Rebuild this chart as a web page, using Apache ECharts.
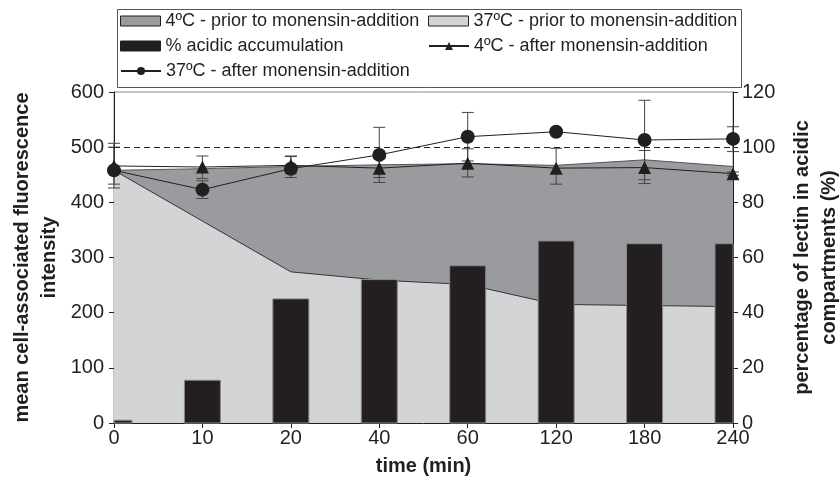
<!DOCTYPE html>
<html>
<head>
<meta charset="utf-8">
<script src="https://cdn.jsdelivr.net/npm/echarts@6/dist/echarts.min.js"></script>
<style>
  html, body { margin: 0; padding: 0; background: #fff; }
  #chart { width: 839px; height: 484px; }
</style>
</head>
<body>
<div id="chart"></div>
<script>
// time points (min), evenly spaced on the axis
const times = ['0', '10', '20', '40', '60', '120', '180', '240'];

// areas (left axis, fluorescence)
const prior4 = [458, 461, 465, 468, 470, 467, 477, 465];
const prior37 = [458, 366, 274, 259, 251, 215, 213, 211];

// bars (right axis, %)
const acidic = [1, 15.5, 45, 52, 57, 66, 65, 65];

// lines with error bars (left axis)
const after4 = [466, 464, 467, 462, 471, 462, 463, 452];
const after4Low = [426, 443, 452, 445, 446, 433, 434, 449];
const after4High = [507, 484, 484, 479, 497, 498, 494, 455];
const after37 = [458, 423, 461, 486, 519, 528, 513, 515];
const after37Low = [433, 407, 445, 436, 475, 523, 441, 492];
const after37High = [500, 439, 483, 536, 563, 533, 585, 537];

const refLevel = 500;

const FONT = 'Liberation Sans, Arial, Helvetica, sans-serif';
const INK = '#231f20';

const chartDom = document.getElementById('chart');
const myChart = echarts.init(chartDom);

function errorBars(low, high) {
    return low.map(function (v, i) { return [i, v, high[i]]; });
}

function renderError(params, api) {
    const x = api.value(0);
    const lo = api.coord([x, api.value(1)]);
    const hi = api.coord([x, api.value(2)]);
    const w = 6;
    const style = { stroke: '#444', lineWidth: 1 };
    return {
        type: 'group',
        children: [
            { type: 'line', shape: { x1: hi[0], y1: hi[1], x2: lo[0], y2: lo[1] }, style: style },
            { type: 'line', shape: { x1: hi[0] - w, y1: hi[1], x2: hi[0] + w, y2: hi[1] }, style: style },
            { type: 'line', shape: { x1: lo[0] - w, y1: lo[1], x2: lo[0] + w, y2: lo[1] }, style: style }
        ]
    };
}

// bars drawn as custom rects so the half bars at 0 and 240 get cut at the plot edge
function renderBar(params, api) {
    const base = api.coord([api.value(0), 0]);
    const top = api.coord([api.value(0), api.value(1)]);
    const w = 36;
    const cs = params.coordSys;
    const shape = echarts.graphic.clipRectByRect(
        { x: base[0] - w / 2, y: top[1], width: w, height: base[1] - top[1] },
        { x: cs.x, y: cs.y, width: cs.width, height: cs.height }
    );
    return shape && {
        type: 'rect',
        shape: shape,
        style: { fill: INK, stroke: '#8a8a8a', lineWidth: 1 }
    };
}

function legendItem(name, left, top, icon, style) {
    const item = { name: name };
    if (icon) {
        item.icon = icon;
        item.itemStyle = style;
    }
    return {
        left: left,
        top: top,
        padding: 0,
        itemWidth: 40,
        itemHeight: 10,
        itemGap: 4,
        selectedMode: false,
        textStyle: { fontFamily: FONT, fontSize: 18, color: INK, lineHeight: 20, padding: [0, 0, 0, 0] },
        data: [item]
    };
}

const N_P4 = '4ºC - prior to monensin-addition';
const N_P37 = '37ºC - prior to monensin-addition';
const N_AC = '% acidic accumulation';
const N_A4 = '4ºC - after monensin-addition';
const N_A37 = '37ºC - after monensin-addition';

let option = {
    animation: false,
    backgroundColor: '#fff',
    graphic: [
        {
            type: 'rect',
            left: 115,
            top: 7,
            shape: { width: 624, height: 78 },
            style: { fill: 'none', stroke: '#555', lineWidth: 1 },
            z: 0
        }
    ],
    legend: [
        legendItem(N_P4, 120, 11, 'rect', { color: '#9a9b9f', borderColor: INK, borderWidth: 1 }),
        legendItem(N_P37, 428, 11, 'rect', { color: '#d3d4d6', borderColor: INK, borderWidth: 1 }),
        legendItem(N_AC, 120, 36, 'rect', { color: INK, borderColor: INK, borderWidth: 1 }),
        legendItem(N_A4, 428, 36),
        legendItem(N_A37, 120, 61)
    ],
    grid: {
        left: 114,
        right: 106,
        top: 92,
        bottom: 61,
        containLabel: false,
        outerBoundsMode: 'none',
        show: true,
        borderColor: '#8a8a8a',
        borderWidth: 1
    },
    xAxis: {
        type: 'category',
        data: times,
        boundaryGap: false,
        name: 'time (min)',
        nameLocation: 'middle',
        nameGap: 33,
        nameMoveOverlap: false,
        nameTextStyle: { fontFamily: FONT, fontSize: 20, fontWeight: 'bold', color: INK },
        axisLine: { lineStyle: { color: INK, width: 1 } },
        axisTick: { alignWithLabel: true, length: 5, lineStyle: { color: INK } },
        axisLabel: { fontFamily: FONT, fontSize: 20, color: INK, margin: 5 },
        splitLine: { show: false }
    },
    yAxis: [
        {
            type: 'value',
            min: 0,
            max: 600,
            interval: 100,
            name: 'mean cell-associated fluorescence\nintensity',
            nameLocation: 'middle',
            nameGap: 51,
            nameMoveOverlap: false,
            nameTextStyle: { fontFamily: FONT, fontSize: 20, fontWeight: 'bold', color: INK, lineHeight: 27 },
            axisLine: { show: true, lineStyle: { color: INK, width: 1 } },
            axisTick: { show: true, inside: false, length: 5, lineStyle: { color: INK } },
            axisLabel: { inside: false, fontFamily: FONT, fontSize: 20, color: INK, margin: 10 },
            splitLine: { show: false }
        },
        {
            type: 'value',
            min: 0,
            max: 120,
            interval: 20,
            position: 'right',
            name: 'percentage of lectin in acidic\ncompartments (%)',
            nameLocation: 'middle',
            nameRotate: 90,
            nameGap: 56,
            nameMoveOverlap: false,
            nameTextStyle: { fontFamily: FONT, fontSize: 20, fontWeight: 'bold', color: INK, lineHeight: 27 },
            axisLine: { show: true, lineStyle: { color: INK, width: 1 } },
            axisTick: { show: true, inside: false, length: 5, lineStyle: { color: INK } },
            axisLabel: { inside: false, fontFamily: FONT, fontSize: 20, color: INK, margin: 9 },
            splitLine: { show: false }
        }
    ],
    series: [
        {
            name: N_P4,
            type: 'line',
            data: prior4,
            showSymbol: false,
            z: 1,
            itemStyle: { color: '#9a9b9f' },
            lineStyle: { color: '#555', width: 1 },
            areaStyle: { color: '#9a9b9f', opacity: 1 }
        },
        {
            name: N_P37,
            type: 'line',
            data: prior37,
            showSymbol: false,
            z: 2,
            itemStyle: { color: '#d3d4d6' },
            lineStyle: { color: '#333', width: 1 },
            areaStyle: { color: '#d3d4d6', opacity: 1 }
        },
        {
            name: N_AC,
            type: 'custom',
            yAxisIndex: 1,
            renderItem: renderBar,
            data: acidic.map(function (v, i) { return [i, v]; }),
            encode: { x: 0, y: 1 },
            z: 3,
            itemStyle: { color: INK }
        },
        {
            type: 'custom',
            renderItem: renderError,
            data: errorBars(after4Low, after4High),
            encode: { x: 0, y: [1, 2] },
            z: 4,
            silent: true
        },
        {
            type: 'custom',
            renderItem: renderError,
            data: errorBars(after37Low, after37High),
            encode: { x: 0, y: [1, 2] },
            z: 4,
            silent: true
        },
        {
            name: N_A4,
            type: 'line',
            data: after4,
            symbol: 'triangle',
            symbolSize: 13,
            z: 5,
            itemStyle: { color: INK },
            lineStyle: { color: INK, width: 1 }
        },
        {
            name: N_A37,
            type: 'line',
            data: after37,
            symbol: 'circle',
            symbolSize: 14,
            z: 5,
            itemStyle: { color: INK },
            lineStyle: { color: INK, width: 1 },
            markLine: {
                silent: true,
                symbol: 'none',
                label: { show: false },
                lineStyle: { color: INK, type: [6, 4], width: 1 },
                data: [{ yAxis: refLevel }]
            }
        }
    ]
};
myChart.setOption(option);
</script>
</body>
</html>
